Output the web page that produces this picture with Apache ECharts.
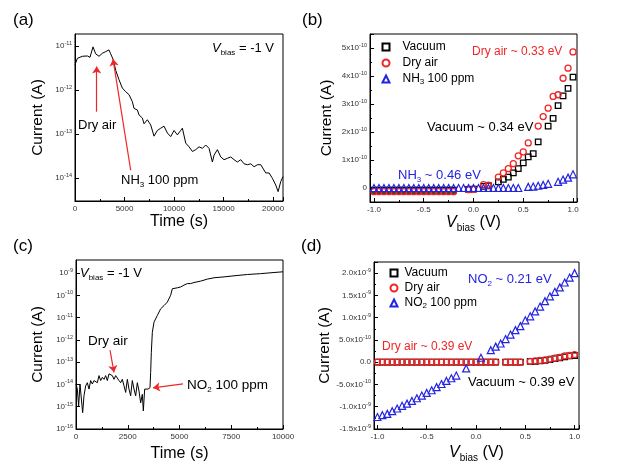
<!DOCTYPE html>
<html><head><meta charset="utf-8">
<script src="https://cdn.jsdelivr.net/npm/echarts@6/dist/echarts.min.js"></script>
<style>html,body{margin:0;padding:0;background:#fff}#c{width:623px;height:468px}</style>
</head><body><div id="c"></div>
<script>
// ---------- DATA ----------
// (a) NH3 transient, Vbias = -1 V
const A_time = [0,236,741,1246,1515,1818,2088,2424,2761,3098,3434,3603,3872,4108,4444,4781,5118,5455,5791,5960,6296,6465,6801,6970,7306,7643,7980,8316,8653,8990,9327,9663,10000,10337,10673,10842,11178,11515,11852,12189,12525,12862,13199,13535,13872,14040,14377,14714,15051,15387,15724,16061,16397,16734,17071,17407,17744,18081,18418,18754,18923,19259,19596,19933,20269,20505,20774,21000];
const A_current = [3.7e-12,5.2e-12,5.8e-12,5.9e-12,5.5e-12,9.5e-12,6.6e-12,5.8e-12,6.8e-12,7.4e-12,
 8.1e-12,6.6e-12,4.8e-12,2.8e-12,1.7e-12,1.1e-12,9.1e-13,7.8e-13,5.4e-13,3.8e-13,
 3.5e-13,2.7e-13,2.3e-13,1.7e-13,2.1e-13,1.6e-13,8.9e-14,1.2e-13,1.35e-13,1.5e-13,
 1.05e-13,8.7e-14,1.2e-13,9.5e-14,1.2e-13,1.35e-13,6.2e-14,5.1e-14,4.0e-14,4.4e-14,
 5.1e-14,4.7e-14,5.6e-14,4.7e-14,2.3e-14,3.3e-14,4.4e-14,3.0e-14,2.6e-14,2.8e-14,
 3.0e-14,2.6e-14,2.3e-14,2.6e-14,2.1e-14,2.0e-14,2.1e-14,1.8e-14,2.0e-14,2.0e-14,
 2.1e-14,1.3e-14,1.3e-14,9.8e-15,6.9e-15,4.9e-15,8.3e-15,1.07e-14];

// (c) NO2 transient, Vbias = -1 V
const C_time = [0,64,129,193,258,322,386,467,548,628,709,789,870,950,1031,1111,1192,1272,1353,1433,1514,1594,1675,1755,1836,1916,1997,2077,2158,2238,2319,2399,2480,2560,2641,2721,2802,2882,2963,3043,3124,3205,3253,3317,3382,3478,3575,3607,3639,3688,3768,3929,4090,4251,4412,4573,4654,4734,4895,5056,5217,5378,5539,5700,6023,6345,6667,7150,7633,8277,8921,9565,10000];
const C_current = [1.05e-14,6.2e-15,1.1e-15,1.05e-14,1.2e-14,5.4e-16,3.1e-15,8.7e-15,1.2e-14,6.2e-15,
 1.5e-14,1.05e-14,1.5e-14,1.7e-14,1.2e-14,2.5e-14,1.5e-14,2.1e-14,1.7e-14,2.5e-14,
 1.5e-14,3.0e-14,3.5e-14,2.5e-14,1.7e-14,2.5e-14,2.1e-14,1.5e-14,1.2e-14,1.7e-14,
 8.7e-15,4.4e-15,1.7e-14,6.2e-15,3.1e-15,1.5e-14,6.2e-15,3.1e-15,1.2e-14,5.1e-15,
 1.5e-15,3.6e-15,6.5e-16,6.2e-15,7.2e-15,6.2e-15,7.2e-15,3.5e-14,2.8e-13,2.2e-12,
 6.3e-12,1.26e-11,2.5e-11,3.5e-11,5.0e-11,1.02e-10,2.0e-10,2.0e-10,2.2e-10,2.4e-10,
 2.9e-10,3.4e-10,3.4e-10,3.8e-10,4.4e-10,5.4e-10,6.2e-10,6.8e-10,7.6e-10,8.7e-10,
 9.5e-10,1.07e-9,1.15e-9];

// (b),(d) bias voltages
const VOLT = [-1.0,-0.95,-0.9,-0.85,-0.8,-0.75,-0.7,-0.65,-0.6,-0.55,-0.5,-0.45,-0.4,-0.35,-0.3,-0.25,-0.2,-0.15,-0.1,-0.05,0.0,0.05,0.1,0.15,0.2,0.25,0.3,0.35,0.4,0.45,0.5,0.55,0.6,0.65,0.7,0.75,0.8,0.85,0.9,0.95,1.0];

// (b) I-V, values in units of 1e-10 A
const B_UNIT = 1e-10;
const B_vacuum = [-0.08,-0.08,-0.08,-0.08,-0.08,-0.08,-0.08,-0.08,-0.08,-0.08,-0.08,-0.08,-0.08,-0.08,-0.08,-0.08,-0.08,null,null,-0.05,-0.04,null,0.06,0.08,null,0.22,0.31,0.39,0.54,0.69,0.90,1.11,1.23,1.65,null,2.21,2.49,2.94,3.29,3.56,3.96];
const B_dryair = [-0.13,-0.13,-0.13,-0.13,-0.13,-0.13,-0.13,-0.13,-0.13,-0.13,-0.13,-0.13,-0.13,-0.13,-0.13,-0.13,-0.13,null,null,-0.06,-0.05,null,0.12,0.10,null,0.39,0.54,0.69,0.87,1.15,1.29,1.61,null,2.21,2.55,2.85,3.27,3.33,3.92,4.28,4.86];
const B_nh3 = [0,0,0,0,0,0,0,0,0,0,0,0,0,0,0,0,0,0,0,0,0,0,0,0,0,0,0,0,0,0,null,0.04,0.05,0.08,0.11,0.15,null,0.22,0.30,0.37,0.49];

// (d) I-V, values in units of 1e-9 A
const D_UNIT = 1e-9;
const D_vacuum = [0,0,0,0,0,0,0,0,0,0,0,0,0,0,0,0,0,0,0,0,0,0,0,0,0,null,0,0,0,0,null,0.02,0.02,0.03,0.04,0.06,0.08,0.10,0.12,0.14,0.15];
const D_dryair = [0,0,0,0,0,0,0,0,0,0,0,0,0,0,0,0,0,0,0,0,0,0,0,0,0,null,0,0,0,0,null,0.02,0.03,0.04,0.05,0.07,0.09,0.11,0.14,0.15,0.17];
const D_no2 = [-1.23,-1.19,-1.16,-1.10,-1.04,-0.98,-0.93,-0.87,-0.81,-0.75,-0.69,-0.63,-0.56,-0.49,-0.42,-0.36,-0.30,null,-0.14,null,null,0.10,null,0.27,0.35,0.42,0.52,0.62,0.72,0.81,0.94,1.03,1.14,1.25,1.37,1.48,1.58,1.68,1.79,1.90,2.00];

// ---------- STYLE ----------
const F = '"Liberation Sans", Arial, sans-serif';
const RED = '#f02626';
const BLUE = '#2424e0';
const BLACK = '#000';

function pairs(xs, ys, unit) {
  const out = [];
  for (let i = 0; i < xs.length; i++) if (ys[i] !== null && ys[i] !== undefined) out.push([xs[i], ys[i] * (unit || 1)]);
  return out;
}
const supRich = {
  b: {fontSize: 8, fontFamily: F, color: '#333', lineHeight: 11},
  e: {fontSize: 5.5, fontFamily: F, color: '#333', lineHeight: 5, verticalAlign: 'top'}
};
function logFmt(v) { return '{b|10}{e|' + Math.round(Math.log10(v)) + '}'; }
function fmtB(v) { const m = Math.round(v / 1e-10); return m === 0 ? '{b|0}' : '{b|' + m + 'x10}{e|-10}'; }
function fmtD(v) {
  if (Math.abs(v) < 1e-13) return '{b|0.0}';
  if (Math.abs(v) >= 0.99e-9) return '{b|' + (v / 1e-9).toFixed(1) + 'x10}{e|-9}';
  return '{b|' + (v / 1e-10).toFixed(1) + 'x10}{e|-10}';
}
const nameRich = {
  i: {fontSize: 16, fontStyle: 'italic', fontFamily: F, color: '#000', lineHeight: 20},
  s: {fontSize: 10, fontFamily: F, color: '#000', lineHeight: 7, verticalAlign: 'bottom'},
  n: {fontSize: 16, fontFamily: F, color: '#000', lineHeight: 20}
};
function baseAxis(extra) {
  return Object.assign({
    gridIndex: 0,
    axisLine: {show: true, onZero: false, lineStyle: {color: '#000', width: 1}},
    axisTick: {show: true, inside: true, length: 4, lineStyle: {color: '#000', width: 1}},
    minorTick: {show: false},
    splitLine: {show: false},
    axisLabel: {fontSize: 8, fontFamily: F, color: '#333', margin: 4, hideOverlap: false},
    nameTextStyle: {fontSize: 15.5, fontFamily: F, color: '#000'},
    nameLocation: 'middle'
  }, extra);
}
function grich(S, color) {
  return {
    n: {fontSize: S, fontFamily: F, fill: color, color: color, lineHeight: S + 4},
    i: {fontSize: S, fontStyle: 'italic', fontFamily: F, fill: color, color: color, lineHeight: S + 4},
    s: {fontSize: Math.round(S * 0.62), fontFamily: F, fill: color, color: color, lineHeight: S * 0.45, verticalAlign: 'bottom'}
  };
}
function gtext(x, y, text, S, color, align) {
  return {type: 'text', x: x, y: y, silent: true, z: 100,
    style: {text: text, rich: grich(S, color), align: align || 'left', verticalAlign: 'middle', fontSize: S, fontFamily: F, fill: color}};
}
const arrowML = (data) => ({silent: true, symbol: ['none', 'arrow'], symbolSize: 7,
  lineStyle: {color: RED, width: 1.2, type: 'solid'}, label: {show: false}, emphasis: {disabled: true}, animation: false, data: data});

function legendRich(gap) {
  return {
    p: {width: gap},
    t: {fontSize: 12, fontFamily: F, color: '#000', lineHeight: 14},
    s: {fontSize: 8, fontFamily: F, color: '#000', lineHeight: 5, verticalAlign: 'bottom'}
  };
}
function legendFmt(name) {
  if (name === 'NH3 100 ppm') return '{p|}{t|NH}{s|3}{t| 100 ppm}';
  if (name === 'NO2 100 ppm') return '{p|}{t|NO}{s|2}{t| 100 ppm}';
  return '{p|}{t|' + name + '}';
}
const sqStyle = {color: 'rgba(255,255,255,0)', borderColor: BLACK, borderWidth: 1.3, opacity: 1};
const ciStyle = {color: 'rgba(255,255,255,0)', borderColor: RED, borderWidth: 1.3, opacity: 1};
const trStyle = {color: 'rgba(255,255,255,0)', borderColor: BLUE, borderWidth: 1.2, opacity: 1};

const chart = echarts.init(document.getElementById('c'), null, {renderer: 'canvas'});
const legendCommon = {orient: 'vertical', itemWidth: 7, itemHeight: 7, padding: 0, selectedMode: false, formatter: legendFmt,
  itemStyle: {opacity: 1}, symbolKeepAspect: true};
const option = {
  animation: false,
  backgroundColor: '#fff',
  grid: [
    {left: 75, top: 34, width: 208, height: 167, show: true, borderColor: '#000', borderWidth: 1, backgroundColor: 'transparent'},
    {left: 370, top: 34, width: 207, height: 168, show: true, borderColor: '#000', borderWidth: 1, backgroundColor: 'transparent'},
    {left: 76, top: 260, width: 207, height: 169, show: true, borderColor: '#000', borderWidth: 1, backgroundColor: 'transparent'},
    {left: 374, top: 262, width: 205, height: 167, show: true, borderColor: '#000', borderWidth: 1, backgroundColor: 'transparent'}
  ],
  xAxis: [
    baseAxis({gridIndex: 0, type: 'value', min: 0, max: 21000, interval: 5000, name: 'Time (s)', nameGap: 13,
      nameTextStyle: {fontSize: 16, fontFamily: F, color: '#000'},
      minorTick: {show: true, splitNumber: 2, length: 2, lineStyle: {color: '#000'}},
      axisLabel: {fontSize: 8, fontFamily: F, color: '#333', margin: 4, showMaxLabel: false, formatter: v => String(v)}}),
    baseAxis({gridIndex: 1, type: 'value', min: -1.04, max: 1.04, splitNumber: 4, name: '{i|V}{s|bias}{n| (V)}', nameGap: 9,
      nameTextStyle: {rich: nameRich},
      minorTick: {show: true, splitNumber: 2, length: 2, lineStyle: {color: '#000'}},
      axisLabel: {fontSize: 8, fontFamily: F, color: '#333', margin: 4, showMinLabel: false, showMaxLabel: false, formatter: v => v.toFixed(1)}}),
    baseAxis({gridIndex: 2, type: 'value', min: 0, max: 10000, interval: 2500, name: 'Time (s)', nameGap: 17,
      nameTextStyle: {fontSize: 16, fontFamily: F, color: '#000'},
      minorTick: {show: true, splitNumber: 2, length: 2, lineStyle: {color: '#000'}},
      axisLabel: {fontSize: 8, fontFamily: F, color: '#333', margin: 4, formatter: v => String(v)}}),
    baseAxis({gridIndex: 3, type: 'value', min: -1.035, max: 1.045, splitNumber: 4, name: '{i|V}{s|bias}{n| (V)}', nameGap: 14,
      nameTextStyle: {rich: nameRich},
      minorTick: {show: true, splitNumber: 2, length: 2, lineStyle: {color: '#000'}},
      axisLabel: {fontSize: 8, fontFamily: F, color: '#333', margin: 4, showMinLabel: false, showMaxLabel: false, formatter: v => v.toFixed(1)}})
  ],
  yAxis: [
    baseAxis({gridIndex: 0, type: 'log', logBase: 10, min: 3.0e-15, max: 1.86e-11, name: 'Current (A)', nameGap: 29,
      axisLabel: {margin: 3, showMinLabel: false, showMaxLabel: false, formatter: logFmt, rich: supRich}}),
    baseAxis({gridIndex: 1, type: 'value', min: -0.5e-10, max: 5.5e-10, splitNumber: 6, name: 'Current (A)', nameGap: 35,
      minorTick: {show: true, splitNumber: 2, length: 2, lineStyle: {color: '#000'}},
      axisLabel: {margin: 3, showMinLabel: false, showMaxLabel: false, formatter: fmtB, rich: supRich}}),
    baseAxis({gridIndex: 2, type: 'log', logBase: 10, min: 1e-16, max: 3.9e-9, name: 'Current (A)', nameGap: 30,
      axisLabel: {margin: 3, showMinLabel: true, showMaxLabel: false, formatter: logFmt, rich: supRich}}),
    baseAxis({gridIndex: 3, type: 'value', min: -1.5e-9, max: 2.25e-9, interval: 0.5e-9, name: 'Current (A)', nameGap: 39,
      minorTick: {show: true, splitNumber: 2, length: 2, lineStyle: {color: '#000'}},
      axisLabel: {margin: 3, showMaxLabel: false, formatter: fmtD, rich: supRich}})
  ],
  legend: [
    Object.assign({left: 381.5, top: 41, itemGap: 4, data: ['Vacuum', 'Dry air', 'NH3 100 ppm'], textStyle: {rich: legendRich(8)}}, legendCommon),
    Object.assign({left: 389.5, top: 267, itemGap: 3, data: ['Vacuum', 'Dry air', 'NO2 100 ppm'], textStyle: {rich: legendRich(2)}}, legendCommon)
  ],
  series: [
    {type: 'line', xAxisIndex: 0, yAxisIndex: 0, data: pairs(A_time, A_current), showSymbol: false, symbol: 'none',
      lineStyle: {color: BLACK, width: 1}, silent: true,
      markLine: arrowML([
        [{coord: [2190, 3.2e-13]}, {coord: [2190, 3.4e-12]}],
        [{coord: [5624, 1.5e-14]}, {coord: [3837, 5.0e-12]}]
      ])},
    {name: 'Vacuum', type: 'scatter', xAxisIndex: 1, yAxisIndex: 1, symbol: 'rect', symbolSize: 5.5, itemStyle: sqStyle, data: pairs(VOLT, B_vacuum, B_UNIT)},
    {name: 'Dry air', type: 'scatter', xAxisIndex: 1, yAxisIndex: 1, symbol: 'circle', symbolSize: 6, itemStyle: ciStyle, data: pairs(VOLT, B_dryair, B_UNIT)},
    {name: 'NH3 100 ppm', type: 'scatter', xAxisIndex: 1, yAxisIndex: 1, symbol: 'triangle', symbolSize: 7, itemStyle: trStyle, data: pairs(VOLT, B_nh3, B_UNIT)},
    {type: 'line', xAxisIndex: 2, yAxisIndex: 2, data: pairs(C_time, C_current), showSymbol: false, symbol: 'none',
      lineStyle: {color: BLACK, width: 1}, silent: true,
      markLine: arrowML([
        [{coord: [1643, 3.5e-13]}, {coord: [1836, 3.5e-14]}],
        [{coord: [5169, 1.07e-14]}, {coord: [3720, 7.1e-15]}]
      ])},
    {name: 'Vacuum', type: 'scatter', xAxisIndex: 3, yAxisIndex: 3, symbol: 'rect', symbolSize: 5.5, itemStyle: sqStyle, data: pairs(VOLT, D_vacuum, D_UNIT)},
    {name: 'Dry air', type: 'scatter', xAxisIndex: 3, yAxisIndex: 3, symbol: 'circle', symbolSize: 6, itemStyle: ciStyle, data: pairs(VOLT, D_dryair, D_UNIT)},
    {name: 'NO2 100 ppm', type: 'scatter', xAxisIndex: 3, yAxisIndex: 3, symbol: 'triangle', symbolSize: 7, itemStyle: trStyle, data: pairs(VOLT, D_no2, D_UNIT)}
  ],
  graphic: [
    gtext(13, 20, '{n|(a)}', 17, '#000'),
    gtext(302, 20, '{n|(b)}', 17, '#000'),
    gtext(13, 246, '{n|(c)}', 17, '#000'),
    gtext(301, 246, '{n|(d)}', 17, '#000'),
    gtext(212, 48, '{i|V}{s|bias}{n| = -1 V}', 13, '#000'),
    gtext(78, 125, '{n|Dry air}', 13, '#000'),
    gtext(121, 180, '{n|NH}{s|3}{n| 100 ppm}', 13, '#000'),
    gtext(472, 52, '{n|Dry air ~ 0.33 eV}', 12, RED),
    gtext(427, 127, '{n|Vacuum ~ 0.34 eV}', 13, '#000'),
    gtext(398, 175, '{n|NH}{s|3}{n| ~ 0.46 eV}', 13, BLUE),
    gtext(80, 273, '{i|V}{s|bias}{n| = -1 V}', 13, '#000'),
    gtext(88, 341, '{n|Dry air}', 13.5, '#000'),
    gtext(187, 385, '{n|NO}{s|2}{n| 100 ppm}', 13.5, '#000'),
    gtext(468, 279, '{n|NO}{s|2}{n| ~ 0.21 eV}', 13, BLUE),
    gtext(382, 347, '{n|Dry air ~ 0.39 eV}', 12, RED),
    gtext(468, 382, '{n|Vacuum ~ 0.39 eV}', 13, '#000')
  ]
};
chart.setOption(option);
</script></body></html>
